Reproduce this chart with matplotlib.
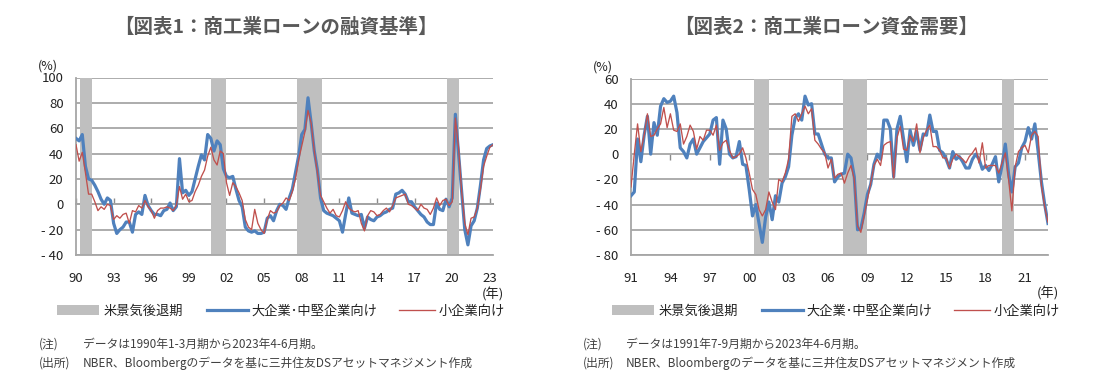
import numpy as np
import matplotlib
matplotlib.use("Agg")
import matplotlib.pyplot as plt
from matplotlib.patches import Patch
from matplotlib.lines import Line2D

plt.rcParams['font.family'] = ['Noto Sans CJK JP', 'DejaVu Sans']

# ---------------- Data: Chart 1 (lending standards, 1990Q1-2023Q2) ----------------
c1_start = 1990.0
c1_large = [52, 50, 55, 30, 20, 19, 15, 10, 4, 0, 5, 3, -15, -23, -20, -18, -14, -14, -22, -8,
            -6, -8, 7, -1, -5, -8, -8, -9, -5, -4, 1, -5, -2, 36, 9, 11, 7, 10, 20, 30,
            39, 35, 55, 52, 42, 50, 47, 28, 22, 21, 22, 12, 3, -2, -18, -21, -22, -21, -23, -23,
            -22, -11, -9, -13, -5, 0, -1, -4, 5, 12, 25, 38, 55, 59, 84, 64, 42, 27, 5, -5,
            -7, -8, -9, -11, -13, -22, -8, 5, -7, -8, -9, -8, -19, -10, -12, -13, -10, -9, -7, -6,
            -4, -3, 8, 9, 11, 8, 2, 2, -2, -5, -8, -10, -14, -16, -16, 1, -4, -5, 4, -2,
            5, 71, 40, 10, -20, -32, -17, -13, -3, 15, 35, 44, 46, 47]
c1_small = [47, 34, 41, 25, 8, 8, 2, -5, -2, -4, 0, -1, -12, -9, -11, -8, -7, -15, -5, -6,
            -1, -3, 3, -2, -5, -11, -5, -3, -3, -2, -3, -5, -1, 14, 4, 8, 2, 3, 10, 15,
            22, 27, 38, 45, 35, 31, 42, 40, 17, 7, 17, 14, 9, 3, -12, -18, -20, -4, -15, -20,
            -23, -12, -5, -7, -6, -1, 1, 5, 3, 10, 20, 35, 46, 57, 74, 64, 42, 25, 7, 2,
            -3, -7, -4, -9, -10, -5, 2, -3, -5, -6, -5, -15, -21, -9, -5, -6, -9, -8, -5, -3,
            -6, -1, 5, 6, 7, 8, 0, -1, -3, -5, 0, -3, -4, -8, -3, 5, -1, 3, 4, -1,
            2, 68, 45, 10, -15, -24, -11, -10, -3, 12, 30, 38, 45, 47]
c1_rec_start = [1990.35, 2000.75, 2007.6, 2019.55]
c1_rec_end = [1991.3, 2001.95, 2009.6, 2020.5]
c1_yticks = [100, 80, 60, 40, 20, 0, -20, -40]
c1_ylabels = ["100", "80", "60", "40", "20", "0", "- 20", "- 40"]
c1_xticks = [1990, 1993, 1996, 1999, 2002, 2005, 2008, 2011, 2014, 2017, 2020, 2023]
c1_xlabels = ["90", "93", "96", "99", "02", "05", "08", "11", "14", "17", "20", "23"]

# ---------------- Data: Chart 2 (loan demand, 1991Q3-2023Q2) ----------------
c2_start = 1991.5
c2_large = [-33, -30, 12, -6, 15, 30, 0, 25, 15, 38, 44, 41, 42, 46, 33, 5, 2, -3, 8, 12,
            0, 5, 10, 13, 16, 27, 29, -8, 27, 20, 0, -3, -2, 10, -8, -9, -28, -49, -40, -55,
            -70, -50, -38, -52, -33, -38, -23, -18, -10, 15, 29, 32, 27, 46, 39, 40, 16, 16, 8, 0,
            -3, -3, -22, -18, -16, -15, 0, -3, -18, -60, -59, -47, -32, -24, -8, 0, -4, 27, 27, 20,
            -18, 20, 30, 12, -6, 19, 7, 18, 3, 16, 15, 31, 18, 18, 3, 1, -4, -11, 2, -4,
            -2, -6, -11, -11, -4, 0, -4, -12, -9, -13, -8, -2, -22, -9, 8, -16, -30, -10, -7, 5,
            10, 21, 12, 24, 2, -22, -40, -55]
c2_small = [-26, 0, 24, 2, 15, 32, 14, 15, 20, 24, 37, 21, 32, 19, 18, 24, 8, 14, 23, 18,
            4, 14, 11, 19, 19, 15, 23, 3, 9, 11, 3, -3, -2, 0, 5, -3, -15, -28, -32, -44,
            -49, -44, -30, -38, -44, -20, -22, -15, -4, 30, 32, 26, 32, 38, 32, 36, 11, 8, 4, 1,
            -11, -4, -19, -16, -15, -23, -15, -9, -20, -57, -62, -49, -36, -23, -9, -4, -9, 7, 9, 10,
            -19, 13, 22, 4, 3, 15, 10, 24, 1, 13, 19, 23, 6, 6, 3, -3, -3, -11, -4, 0,
            -2, -4, -7, -2, 1, 5, -7, 9, -11, -9, -9, -9, -15, -7, 1, -20, -45, -10, 2, 5,
            7, 1, 15, 18, 14, -25, -42, -54]
c2_rec_start = [2000.85, 2007.65, 2019.75]
c2_rec_end = [2002.0, 2009.45, 2020.65]
c2_yticks = [60, 40, 20, 0, -20, -40, -60, -80]
c2_ylabels = ["60", "40", "20", "0", "- 20", "- 40", "- 60", "- 80"]
c2_xticks = [1991.5, 1994.5, 1997.5, 2000.5, 2003.5, 2006.5, 2009.5, 2012.5, 2015.5, 2018.5, 2021.5]
c2_xlabels = ["91", "94", "97", "00", "03", "06", "09", "12", "15", "18", "21"]

titles = ["【図表1：商工業ローンの融資基準】", "【図表2：商工業ローン資金需要】"]
legend_labels = ["米景気後退期", "大企業･中堅企業向け", "小企業向け"]
notes1 = ["(注)", "データは1990年1-3月期から2023年4-6月期。"]
notes2 = ["(注)", "データは1991年7-9月期から2023年4-6月期。"]
source = ["(出所)", "NBER、Bloombergのデータを基に三井住友DSアセットマネジメント作成"]

BLUE = "#4F81BD"
RED = "#C0504D"
SHADE = "#BFBFBF"
GRID = "#A6A6A6"
TXT = "#404040"

W, H = 1111, 381
fig = plt.figure(figsize=(W / 100, H / 100), dpi=100)


def fx(px):
    return px / W


def fy(py):
    return 1 - py / H


def draw(left_px, right_px, top_px, bot_px, start, large, small, rs, re, yt, yl, xt, xl):
    ax = fig.add_axes([fx(left_px), fy(bot_px), fx(right_px - left_px), (bot_px - top_px) / H])
    t = start + np.arange(len(large)) / 4.0
    for a, b in zip(rs, re):
        ax.axvspan(a, b, color=SHADE, lw=0, zorder=1)
    ax.set_ylim(yt[-1], yt[0])
    ax.set_xlim(start, start + (len(large) - 1) / 4.0)
    ax.set_yticks(yt)
    ax.set_yticklabels(yl)
    ax.set_xticks(xt)
    ax.set_xticklabels(xl)
    ax.grid(axis='y', color=GRID, lw=1.3, zorder=0)
    ax.set_axisbelow(True)
    ax.plot(t, large, color=BLUE, lw=2.3, zorder=3, solid_joinstyle='round')
    ax.plot(t, small, color=RED, lw=0.95, zorder=4)
    for s in ['top', 'right']:
        ax.spines[s].set_visible(False)
    for s in ['left', 'bottom']:
        ax.spines[s].set_color(GRID)
        ax.spines[s].set_linewidth(1.3)
    ax.tick_params(axis='y', length=0, pad=9, labelsize=9.5, labelcolor="#222222")
    ax.tick_params(axis='x', length=0, pad=12, labelsize=9.5, labelcolor="#222222")
    # zero-line category axis with small tick marks
    loc = (0 - yt[-1]) / (yt[0] - yt[-1])
    sec = ax.secondary_xaxis(loc)
    sec.set_xticks(xt)
    sec.tick_params(axis='x', direction='in', length=4, width=1, color="#8C8C8C",
                    labelbottom=False, labeltop=False)
    sec.spines['bottom'].set_color("#8C8C8C")
    sec.spines['bottom'].set_linewidth(1.3)
    sec.spines['top'].set_visible(False)
    ax.text(1.0, -0.22, "(年)", transform=ax.transAxes, ha='center', va='center',
            fontsize=9.5, color="#222222")
    ax.text(-0.068, 1.065, "(%)", transform=ax.transAxes, ha='center', va='center',
            fontsize=9, color="#222222")
    return ax


ax1 = draw(76, 493, 77.5, 255, c1_start, c1_large, c1_small, c1_rec_start, c1_rec_end,
           c1_yticks, c1_ylabels, c1_xticks, c1_xlabels)
ax2 = draw(631, 1048, 78.5, 255, c2_start, c2_large, c2_small, c2_rec_start, c2_rec_end,
           c2_yticks, c2_ylabels, c2_xticks, c2_xlabels)

handles = [Patch(facecolor=SHADE, edgecolor='none'),
           Line2D([0], [0], color=BLUE, lw=2.3),
           Line2D([0], [0], color=RED, lw=0.95)]
hlens = [3.2, 3.1, 2.7]
for title, cx, x0 in [(titles[0], 276, 0), (titles[1], 826, 555)]:
    fig.text(fx(cx), fy(27), title, ha='center', va='center', fontsize=14,
             fontweight='bold', color="#595959")
    for h, lab, hl, lx in zip(handles, legend_labels, hlens, [57, 207, 399]):
        fig.legend([h], [lab], loc='center left', bbox_to_anchor=(fx(x0 + lx), fy(311)),
                   frameon=False, fontsize=9.5, handlelength=hl, handleheight=0.7,
                   handletextpad=0.3, borderpad=0, borderaxespad=0, labelcolor="#222222")

for x0, notes in [(0, notes1), (555, notes2)]:
    nx = 39 if x0 == 0 else 28
    tx = 83 if x0 == 0 else 71
    fig.text(fx(x0 + nx), fy(344), notes[0], ha='left', va='center', fontsize=8.5, color=TXT)
    fig.text(fx(x0 + tx), fy(344), notes[1], ha='left', va='center', fontsize=8.5, color=TXT)
    fig.text(fx(x0 + nx), fy(363), source[0], ha='left', va='center', fontsize=8.5, color=TXT)
    fig.text(fx(x0 + tx), fy(363), source[1], ha='left', va='center', fontsize=8.5, color=TXT)

fig.savefig("out.png", dpi=100, facecolor='white')
